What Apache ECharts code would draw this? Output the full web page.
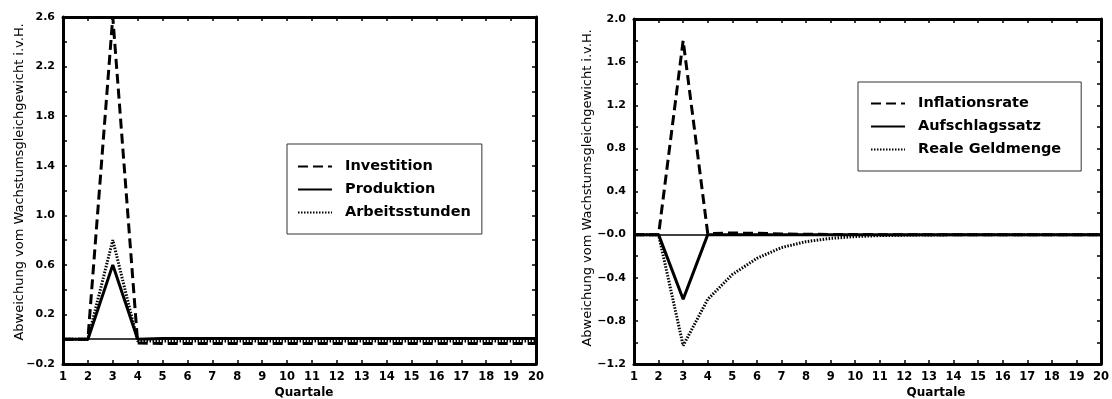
<!DOCTYPE html>
<html>
<head>
<meta charset="utf-8">
<script src="https://cdn.jsdelivr.net/npm/echarts@6/dist/echarts.min.js"></script>
<style>
html,body{margin:0;padding:0;background:#fff;}
#c{width:1112px;height:399px;}
</style>
</head>
<body>
<div id="c"></div>
<script>
// ---- data ----
const quarters = [1,2,3,4,5,6,7,8,9,10,11,12,13,14,15,16,17,18,19,20];
const investition    = [0, 0, 2.6, -0.03, -0.035, -0.035, -0.035, -0.035, -0.035, -0.035, -0.035, -0.035, -0.035, -0.035, -0.035, -0.035, -0.035, -0.035, -0.035, -0.035];
const produktion     = [0, 0, 0.6, 0, 0.005, 0.005, 0.005, 0.005, 0.005, 0.005, 0.005, 0.005, 0.005, 0.005, 0.005, 0.005, 0.005, 0.005, 0.005, 0.005];
const arbeitsstunden = [0, 0, 0.8, -0.015, -0.015, -0.015, -0.015, -0.015, -0.015, -0.015, -0.015, -0.015, -0.015, -0.015, -0.015, -0.015, -0.015, -0.015, -0.015, -0.015];
const inflationsrate = [0, 0, 1.8, 0.01, 0.015, 0.012, 0.006, 0.003, 0.002, 0.001, 0, 0, 0, 0, 0, 0, 0, 0, 0, 0];
const aufschlagssatz = [0, 0, -0.6, 0, 0, 0, 0, 0, 0, 0, 0, 0, 0, 0, 0, 0, 0, 0, 0, 0];
const realeGeldmenge = [0, 0, -1.03, -0.6, -0.37, -0.22, -0.12, -0.065, -0.035, -0.018, -0.009, -0.005, -0.003, -0.002, -0.001, 0, 0, 0, 0, 0];
const leftYLabels  = ['\u22120.2','0.2','0.6','1.0','1.4','1.8','2.2','2.6'];
const rightYLabels = ['\u22121.2','\u22120.8','\u22120.4','\u22120.0','0.4','0.8','1.2','1.6','2.0'];
const xLabels = quarters.map(String);
const yAxisTitle = 'Abweichung vom Wachstumsgleichgewicht i.v.H.';
const xAxisTitle = 'Quartale';
const leftNames  = ['Investition','Produktion','Arbeitsstunden'];
const rightNames = ['Inflationsrate','Aufschlagssatz','Reale Geldmenge'];

// ---- styles ----
const DASH = {color:'#000', width:3, type:[10,5]};
const SOLID = {color:'#000', width:3, type:'solid'};
const DOT = {color:'#000', width:3, type:[1.5,1.5]};
const styles = [DASH, SOLID, DOT];
const tickFont = {fontFamily:'DejaVu Sans', fontWeight:'bold', fontSize:11, color:'#000'};

function pairs(arr){ return quarters.map((q,i)=>[q, arr[i]]); }

function xAxes(gi){
  return [
    {type:'value', gridIndex:gi, min:1, max:20, interval:1, position:'bottom',
     axisLine:{show:true, onZero:false, lineStyle:{color:'#000', width:3}},
     axisTick:{show:true, inside:true, length:4, lineStyle:{color:'#000', width:1.5}},
     axisLabel:{...tickFont, fontSize:11.5, margin:7, formatter:(v)=>xLabels[Math.round(v)-1]||''},
     splitLine:{show:false}},
    {type:'value', gridIndex:gi, min:1, max:20, interval:1, position:'top',
     axisLine:{show:true, onZero:false, lineStyle:{color:'#000', width:3}},
     axisTick:{show:true, inside:true, length:4, lineStyle:{color:'#000', width:1.5}},
     axisLabel:{show:false}, splitLine:{show:false}}
  ];
}
function yAxes(gi, min, max, labels){
  return [
    {type:'value', gridIndex:gi, min:min, max:max, interval:0.2, position:'left',
     axisLine:{show:true, onZero:false, lineStyle:{color:'#000', width:3}},
     axisTick:{show:true, inside:true, length:4, lineStyle:{color:'#000', width:1.5}},
     axisLabel:{...tickFont, margin:8, formatter:(v)=>{
        const k = Math.round((v-min)/0.2);
        return (k%2===0) ? (labels[k/2]||'') : '';
     }},
     splitLine:{show:false}},
    {type:'value', gridIndex:gi, min:min, max:max, interval:0.2, position:'right',
     axisLine:{show:true, onZero:false, lineStyle:{color:'#000', width:3}},
     axisTick:{show:true, inside:true, length:4, lineStyle:{color:'#000', width:1.5}},
     axisLabel:{show:false}, splitLine:{show:false}}
  ];
}
function seriesFor(names, datas, gi){
  return names.map((n,i)=>{
    const s = {
      name:n, type:'line', xAxisIndex:gi*2, yAxisIndex:gi*2,
      data:pairs(datas[i]), symbol:'none', lineStyle:styles[i], itemStyle:{color:'#000'}, z:5-i,
      animation:false
    };
    if (i===0) s.markLine = {silent:true, symbol:['none','none'], label:{show:false},
       lineStyle:{color:'#000', width:1.5, type:'solid'}, data:[{yAxis:0}], animation:false};
    return s;
  });
}
function legendFor(names, left, top, padL, padR, padT){
  return {
    show:true, orient:'vertical', left:left, top:top,
    data:names,
    itemWidth:34, itemHeight:14, itemGap:8,
    itemStyle:{opacity:0},
    padding:[padT, padR, 14, padL],
    borderColor:'#333', borderWidth:1,
    textStyle:{fontFamily:'DejaVu Sans', fontWeight:'bold', fontSize:14.5, lineHeight:14, color:'#000', padding:[0,0,0,8]},
    selectedMode:false
  };
}

const chart = echarts.init(document.getElementById('c'), null, {renderer:'canvas'});
const option = {
  animation:false,
  backgroundColor:'#fff',
  grid:[
    {left:63, top:17, width:473, height:347, show:false},
    {left:634, top:19, width:474, height:345, show:false}
  ],
  xAxis:[...xAxes(0), ...xAxes(1)],
  yAxis:[...yAxes(0,-0.2,2.6,leftYLabels), ...yAxes(1,-1.2,2.0,rightYLabels)],
  legend:[legendFor(leftNames, 287, 144, 10, 11, 15), legendFor(rightNames, 858, 82, 12, 20, 14)],
  series:[...seriesFor(leftNames,[investition,produktion,arbeitsstunden],0),
          ...seriesFor(rightNames,[inflationsrate,aufschlagssatz,realeGeldmenge],1)],
  graphic:[
    {type:'text', x:20, y:182, rotation:Math.PI/2, style:{text:yAxisTitle, fill:'#000', font:'13px "DejaVu Sans"', align:'center', verticalAlign:'middle'}},
    {type:'text', x:588, y:188, rotation:Math.PI/2, style:{text:yAxisTitle, fill:'#000', font:'13px "DejaVu Sans"', align:'center', verticalAlign:'middle'}},
    {type:'text', x:304, y:393, style:{text:xAxisTitle, fill:'#000', font:'bold 12px "DejaVu Sans"', align:'center', verticalAlign:'middle'}},
    {type:'text', x:936, y:393, style:{text:xAxisTitle, fill:'#000', font:'bold 12px "DejaVu Sans"', align:'center', verticalAlign:'middle'}}
  ]
};
chart.setOption(option);
</script>
</body>
</html>
